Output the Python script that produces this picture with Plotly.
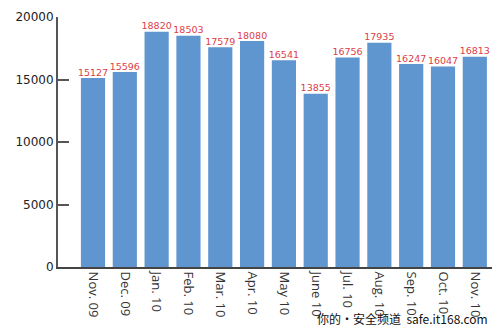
import plotly.graph_objects as go

months = ["Nov. 09", "Dec. 09", "Jan. 10", "Feb. 10", "Mar. 10", "Apr. 10", "May 10",
          "June 10", "Jul. 10", "Aug. 10", "Sep. 10", "Oct. 10", "Nov. 10"]
values = [15127, 15596, 18820, 18503, 17579, 18080, 16541, 13855, 16756, 17935, 16247, 16047, 16813]
y_ticks = [0, 5000, 10000, 15000, 20000]

idx = list(range(len(months)))

fig = go.Figure()
fig.add_trace(go.Bar(
    x=idx, y=values, width=0.76,
    marker=dict(color="#6096cf", line=dict(width=0)),
))
fig.add_trace(go.Scatter(
    x=idx, y=values, mode="text",
    text=[str(v) for v in values], textposition="top center",
    textfont=dict(family="DejaVu Sans", size=9.5, color="#dc4048"),
    cliponaxis=False, hoverinfo="skip",
))

fig.update_layout(
    width=500, height=331,
    margin=dict(l=58, r=8, t=17, b=64),
    paper_bgcolor="white", plot_bgcolor="white",
    showlegend=False,
    xaxis=dict(
        range=[-1.1, 12.54], tickmode="array", tickvals=idx, ticktext=months,
        tickangle=90, showgrid=False, zeroline=False,
        showline=True, linecolor="#444", linewidth=2,
        ticks="", tickfont=dict(family="Open Sans", size=13, color="#333"),
    ),
    yaxis=dict(
        range=[0, 20000], tickmode="array", tickvals=y_ticks,
        ticktext=[str(t) for t in y_ticks],
        showgrid=False, zeroline=False, showline=True, linecolor="#555", linewidth=2,
        ticks="inside", ticklen=11, tickwidth=1.5, tickcolor="#555",
        tickfont=dict(family="DejaVu Sans", size=12, color="#222"),
    ),
    annotations=[dict(
        text="你的・安全频道  safe.it168.com", xref="paper", yref="paper",
        x=0.995, y=-0.204, xanchor="right", yanchor="middle", showarrow=False,
        font=dict(family="Noto Sans CJK SC", size=12, color="#111"),
    )],
)

fig.write_html("out.html")
